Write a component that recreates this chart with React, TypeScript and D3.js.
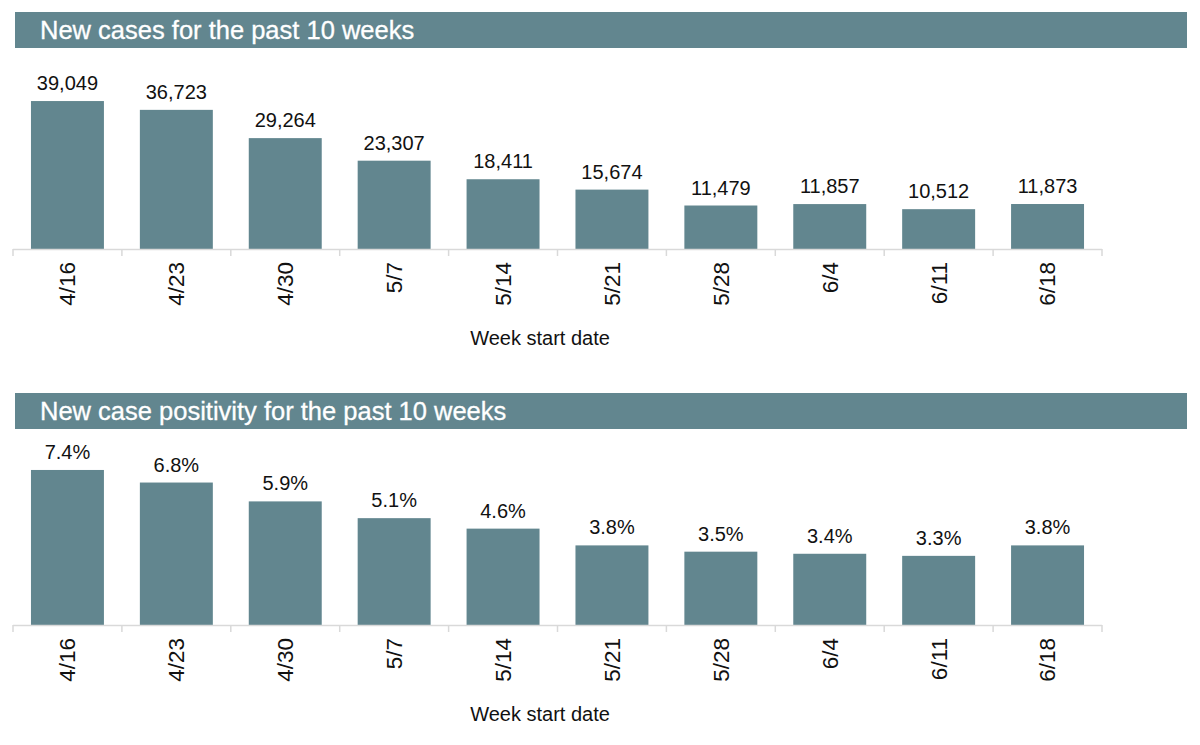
import React, { useRef, useEffect } from 'react';
import * as d3 from 'd3';

const weeks = ['4/16', '4/23', '4/30', '5/7', '5/14', '5/21', '5/28', '6/4', '6/11', '6/18'];
const newCases = [39049, 36723, 29264, 23307, 18411, 15674, 11479, 11857, 10512, 11873];
const positivity = [7.4, 6.8, 5.9, 5.1, 4.6, 3.8, 3.5, 3.4, 3.3, 3.8];

const BAR = '#62868f';
const FONT = '"Liberation Sans", Arial, sans-serif';

interface Panel {
  title: string;
  values: number[];
  fmt: (v: number) => string;
  headerTop: number;
  baseline: number;
  yMax: number;
  plotHeight: number;
}

const panels: Panel[] = [
  {
    title: 'New cases for the past 10 weeks',
    values: newCases,
    fmt: d3.format(','),
    headerTop: 12,
    baseline: 249,
    yMax: 45000,
    plotHeight: 170.5,
  },
  {
    title: 'New case positivity for the past 10 weeks',
    values: positivity,
    fmt: v => d3.format('.1f')(v) + '%',
    headerTop: 393,
    baseline: 625,
    yMax: 8,
    plotHeight: 167.6,
  },
];

const App: React.FC = () => {
  const svgRef = useRef<SVGSVGElement>(null);

  useEffect(() => {
    if (!svgRef.current) return;
    const svg = d3.select(svgRef.current);
    svg.selectAll('*').remove();

    panels.forEach(p => {
      const g = svg.append('g');

      // header band
      g.append('rect')
        .attr('x', 15)
        .attr('y', p.headerTop)
        .attr('width', 1172)
        .attr('height', 36)
        .attr('fill', BAR);
      g.append('text')
        .attr('x', 40)
        .attr('y', p.headerTop + 27)
        .attr('fill', '#fff')
        .attr('font-family', FONT)
        .attr('font-size', 25.5)
        .attr('stroke', '#fff')
        .attr('stroke-width', 0.3)
        .text(p.title);

      const x = d3.scaleBand<string>()
        .domain(weeks)
        .range([13, 1102])
        .paddingInner(0.33)
        .paddingOuter(0.165);

      const y = d3.scaleLinear()
        .domain([0, p.yMax])
        .range([p.baseline, p.baseline - p.plotHeight]);

      const gap = (x.step() - x.bandwidth()) / 2;

      g.selectAll('rect.bar')
        .data(p.values)
        .enter().append('rect')
        .attr('class', 'bar')
        .attr('x', (_, i) => x(weeks[i]) || 0)
        .attr('y', d => y(d))
        .attr('width', x.bandwidth())
        .attr('height', d => p.baseline - y(d))
        .attr('fill', BAR);

      g.selectAll('text.val')
        .data(p.values)
        .enter().append('text')
        .attr('class', 'val')
        .attr('x', (_, i) => (x(weeks[i]) || 0) + x.bandwidth() / 2)
        .attr('y', d => y(d) - 11)
        .attr('text-anchor', 'middle')
        .attr('font-family', FONT)
        .attr('font-size', 20)
        .attr('fill', '#111')
        .text(d => p.fmt(d));

      // axis line and boundary ticks
      g.append('line')
        .attr('x1', 13).attr('x2', 1102)
        .attr('y1', p.baseline + 0.5).attr('y2', p.baseline + 0.5)
        .attr('stroke', '#d9d9d9').attr('stroke-width', 1.5);

      const bounds = weeks.map(w => (x(w) || 0) - gap).concat([1102]);
      g.selectAll('line.tick')
        .data(bounds)
        .enter().append('line')
        .attr('class', 'tick')
        .attr('x1', d => d).attr('x2', d => d)
        .attr('y1', p.baseline).attr('y2', p.baseline + 7)
        .attr('stroke', '#d9d9d9').attr('stroke-width', 1.5);

      g.selectAll('text.tick')
        .data(weeks)
        .enter().append('text')
        .attr('class', 'tick')
        .attr('transform', d => `translate(${(x(d) || 0) + x.bandwidth() / 2},${p.baseline + 13}) rotate(-90)`)
        .attr('dy', '0.35em')
        .attr('text-anchor', 'end')
        .attr('font-family', FONT)
        .attr('font-size', 22.5)
        .attr('fill', '#111')
        .text(d => d);

      g.append('text')
        .attr('x', 540)
        .attr('y', p.baseline + 96)
        .attr('text-anchor', 'middle')
        .attr('font-family', FONT)
        .attr('font-size', 20)
        .attr('fill', '#111')
        .text('Week start date');
    });
  }, []);

  return (
    <svg
      ref={svgRef}
      width={1200}
      height={745}
      style={{ position: 'absolute', left: 0, top: 0, background: '#fff' }}
    />
  );
};

export default App;
